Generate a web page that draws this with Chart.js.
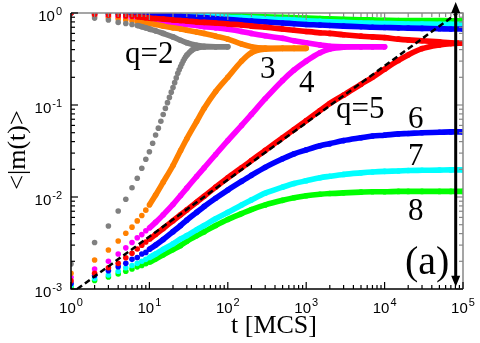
<!DOCTYPE html>
<html><head><meta charset="utf-8">
<script src="https://cdn.jsdelivr.net/npm/chart.js@4.4.1/dist/chart.umd.min.js"></script>
<style>
html,body{margin:0;padding:0;background:#fff;}
canvas{display:block;}
#fl{position:absolute;left:-9999px;top:0;}
#fl span.s{font-family:"Liberation Serif";}
#fl span.a{font-family:"Liberation Sans";}
</style>
</head><body>
<div id="fl"><span class="s">q=2 t [MCS] (a) &lt;|m(t)&gt;</span><span class="a">10 -3</span></div>
<canvas id="c" width="480" height="343"></canvas>
<script>
// ---- data ----
const T = [1,2,3,4,5,6,7,8,9,10,12,15,20,25,30,40,50,70,100,150,200,300,500,700,1000,1500,2000,3000,5000,7000,10000,15000,20000,30000,50000,70000,100000];
const tGrayUp = [1,2,3,4,5,6,7,8,9,10,11,12,13,14,15,16,17,18,19,20,21,22,23,24,25,26,27,28,29,30,35,40,50,70,100];

const q2Down = [1,0.88,0.84,0.79,0.77,0.75,0.73,0.71,0.69,0.67,0.64,0.6,0.55,0.505,0.475,0.445,0.435,0.43,0.43];
const q2Up = [0.00187,0.0032,0.00484,0.00705,0.00944,0.0126,0.016,0.0205,0.0257,0.031,0.0384,0.0472,0.056,0.0667,0.0787,0.0918,0.106,0.121,0.138,0.155,0.175,0.197,0.221,0.241,0.261,0.281,0.3,0.318,0.334,0.348,0.395,0.415,0.428,0.43,0.43];

const q3Down = [1,0.93,0.89,0.86,0.84,0.82,0.81,0.795,0.78,0.77,0.75,0.72,0.69,0.67,0.65,0.62,0.6,0.56,0.52,0.46,0.43,0.415,0.413,0.413,0.413];
const q3Up = [0.00148,0.00207,0.00265,0.00333,0.00403,0.0047,0.0055,0.0063,0.0072,0.0082,0.0105,0.0145,0.022,0.032,0.043,0.066,0.092,0.14,0.2,0.3,0.37,0.405,0.413,0.413,0.413];

const q4Down = [1,0.95,0.92,0.9,0.88,0.87,0.86,0.85,0.84,0.83,0.82,0.8,0.78,0.765,0.75,0.73,0.71,0.69,0.665,0.63,0.6,0.565,0.53,0.5,0.475,0.45,0.435,0.43,0.43,0.43,0.43];
const q4Up = [0.00134,0.00165,0.002,0.0024,0.0028,0.0032,0.0036,0.0039,0.0043,0.0046,0.0053,0.0064,0.0083,0.0104,0.0125,0.0167,0.0208,0.029,0.041,0.06,0.079,0.117,0.185,0.24,0.3,0.37,0.405,0.425,0.43,0.43,0.43];

const q5Down = [1,0.97,0.95,0.94,0.93,0.92,0.91,0.9,0.89,0.88,0.87,0.86,0.84,0.83,0.82,0.8,0.79,0.78,0.76,0.74,0.72,0.7,0.67,0.65,0.63,0.61,0.6,0.58,0.56,0.55,0.54,0.52,0.51,0.5,0.485,0.475,0.47];
const q5Up = [0.00123,0.00148,0.0017,0.0019,0.00219,0.00245,0.00272,0.00299,0.00324,0.00347,0.00392,0.00455,0.00552,0.00641,0.00724,0.00878,0.0102,0.0128,0.0162,0.0208,0.0249,0.0321,0.044,0.0542,0.0676,0.0869,0.104,0.128,0.168,0.2,0.245,0.305,0.35,0.41,0.45,0.465,0.47];

const q6Down = [1,0.99,0.985,0.98,0.975,0.97,0.965,0.96,0.958,0.955,0.95,0.94,0.93,0.92,0.91,0.9,0.89,0.87,0.85,0.83,0.82,0.8,0.78,0.765,0.75,0.74,0.73,0.72,0.71,0.7,0.695,0.69,0.685,0.68,0.675,0.67,0.67];
const q6Up = [0.00115,0.0014,0.00158,0.00175,0.0019,0.0021,0.0022,0.0024,0.0025,0.0027,0.003,0.00345,0.0042,0.0049,0.0056,0.0068,0.0079,0.0097,0.0119,0.0148,0.0172,0.021,0.026,0.0295,0.0325,0.036,0.038,0.041,0.044,0.046,0.047,0.0485,0.049,0.05,0.0505,0.051,0.051];

const q7Down = [1,0.995,0.99,0.988,0.985,0.982,0.98,0.978,0.976,0.974,0.97,0.965,0.96,0.955,0.95,0.94,0.935,0.92,0.9,0.89,0.88,0.865,0.85,0.84,0.825,0.81,0.8,0.79,0.78,0.775,0.77,0.765,0.76,0.76,0.755,0.755,0.755];
const q7Up = [0.0011,0.0013,0.00142,0.00156,0.0017,0.0018,0.0019,0.002,0.0021,0.0022,0.0024,0.0027,0.0031,0.0035,0.0038,0.0044,0.0049,0.0058,0.0068,0.0082,0.0093,0.011,0.0128,0.014,0.015,0.0162,0.0168,0.0176,0.0183,0.0187,0.019,0.0192,0.0194,0.0195,0.0196,0.0197,0.0197];

const q8Down = [1,0.998,0.996,0.995,0.993,0.992,0.99,0.99,0.988,0.987,0.985,0.98,0.975,0.97,0.968,0.962,0.958,0.95,0.94,0.93,0.92,0.91,0.9,0.89,0.88,0.87,0.865,0.855,0.845,0.84,0.835,0.83,0.83,0.828,0.826,0.825,0.825];
const q8Up = [0.00105,0.00124,0.00135,0.00146,0.00156,0.00165,0.00174,0.0018,0.00188,0.00195,0.00212,0.00235,0.00268,0.00297,0.0033,0.0038,0.0042,0.0049,0.0057,0.0066,0.0073,0.0082,0.0092,0.0098,0.0103,0.0107,0.0109,0.0111,0.0113,0.0114,0.0114,0.0115,0.0115,0.0115,0.0115,0.0115,0.0115];

const dashX = [1.2, 85000];
const dashY = [0.001, 1.0];
const arrowX = 80700;
const arrowY = [0.00106, 1.32];

const xTickVals = [1,10,100,1000,10000,100000];
const xTickExp = ['0','1','2','3','4','5'];
const yTickVals = [0.001,0.01,0.1,1];
const yTickExp = ['-3','-2','-1','0'];
const xTitle = 't [MCS]';
const yTitle = '<|m(t)>';
const curveLabels = ['q=2','3','4','q=5','6','7','8','(a)'];

// ---- styles ----
const COL = {q2:'#808080', q3:'#ff8000', q4:'#ff00ff', q5:'#ff0000', q6:'#0000ff', q7:'#00ffff', q8:'#00ff00'};
const SERIF = '"Liberation Serif"';
const SANS = '"Liberation Sans"';

function series(times, vals, color, thr, order) {
  return {
    data: vals.map((v, i) => ({x: times[i], y: v})),
    borderColor: color, backgroundColor: color,
    pointBackgroundColor: color, pointBorderWidth: 0, pointRadius: 2.8, pointHoverRadius: 2.8,
    borderWidth: 5.6, cubicInterpolationMode: 'monotone', fill: false,
    segment: { borderColor: c => (c.p0.parsed.x < thr ? 'rgba(0,0,0,0)' : undefined) },
    order: order
  };
}

const datasets = [
  {
    data: dashX.map((x, i) => ({x: x, y: dashY[i]})),
    borderColor: '#000', borderWidth: 2.5, borderDash: [6, 3.5], pointRadius: 0, fill: false, order: 0
  },
  series(T, q5Up, COL.q5, 10, 1),
  series(T, q5Down, COL.q5, 7, 1),
  series(tGrayUp, q2Up, COL.q2, 30, 2),
  series(T, q2Down, COL.q2, 7, 2),
  series(T, q3Up, COL.q3, 10, 3),
  series(T, q3Down, COL.q3, 7, 3),
  series(T, q4Up, COL.q4, 10, 4),
  series(T, q4Down, COL.q4, 7, 4),
  series(T, q6Up, COL.q6, 10, 5),
  series(T, q6Down, COL.q6, 7, 5),
  series(T, q7Up, COL.q7, 10, 6),
  series(T, q7Down, COL.q7, 7, 6),
  series(T, q8Up, COL.q8, 10, 7),
  series(T, q8Down, COL.q8, 7, 7)
];

const labelPos = [
  {x:125, y:63, size:31}, {x:260, y:78, size:31}, {x:299, y:92, size:31},
  {x:336, y:118, size:31}, {x:408, y:128, size:31}, {x:408, y:165, size:31},
  {x:408, y:220, size:31}, {x:405, y:274, size:40}
];

const deco = {
  id: 'deco',
  afterDatasetsDraw(chart) {
    const ctx = chart.ctx, xs = chart.scales.x, ys = chart.scales.y, a = chart.chartArea;
    ctx.save();
    ctx.lineWidth = 1.5;
    ctx.strokeStyle = '#888';
    ctx.beginPath();
    ctx.moveTo(a.left, a.top); ctx.lineTo(a.right, a.top); ctx.lineTo(a.right, a.bottom);
    ctx.stroke();
    const xMinor = [], yMinor = [];
    xTickVals.forEach(v => { for (let k = 2; k <= 9; k++) if (v * k <= 100000) xMinor.push(v * k); });
    yTickVals.forEach(v => { for (let k = 2; k <= 9; k++) if (v * k <= 1) yMinor.push(v * k); });
    const tick = (x1, y1, x2, y2, col) => { ctx.strokeStyle = col; ctx.beginPath(); ctx.moveTo(x1, y1); ctx.lineTo(x2, y2); ctx.stroke(); };
    ctx.lineWidth = 1.2;
    xTickVals.forEach(v => { const p = xs.getPixelForValue(v);
      tick(p, a.bottom, p, a.bottom - 7, '#000'); tick(p, a.top, p, a.top + 7, '#888'); });
    xMinor.forEach(v => { const p = xs.getPixelForValue(v);
      tick(p, a.bottom, p, a.bottom - 4, '#000'); tick(p, a.top, p, a.top + 4, '#888'); });
    yTickVals.forEach(v => { const p = ys.getPixelForValue(v);
      tick(a.left, p, a.left + 7, p, '#000'); tick(a.right, p, a.right - 7, p, '#888'); });
    yMinor.forEach(v => { const p = ys.getPixelForValue(v);
      tick(a.left, p, a.left + 4, p, '#000'); tick(a.right, p, a.right - 4, p, '#888'); });
    ctx.lineWidth = 1.5; ctx.strokeStyle = '#000';
    ctx.beginPath(); ctx.moveTo(a.left, a.top); ctx.lineTo(a.left, a.bottom); ctx.lineTo(a.right, a.bottom); ctx.stroke();
    // tick labels
    ctx.fillStyle = '#000';
    const big = '15px ' + SANS, small = '11px ' + SANS;
    ctx.textBaseline = 'alphabetic';
    xTickVals.forEach((v, i) => {
      const p = xs.getPixelForValue(v);
      ctx.font = big; const w1 = ctx.measureText('10').width;
      ctx.font = small; const w2 = ctx.measureText(xTickExp[i]).width;
      const s = p - (w1 + 1 + w2) / 2;
      ctx.font = big; ctx.textAlign = 'left'; ctx.fillText('10', s, a.bottom + 24);
      ctx.font = small; ctx.fillText(xTickExp[i], s + w1 + 1, a.bottom + 17);
    });
    yTickVals.forEach((v, i) => {
      const p = ys.getPixelForValue(v);
      ctx.font = small; const w2 = ctx.measureText(yTickExp[i]).width;
      ctx.textAlign = 'right';
      ctx.fillText(yTickExp[i], a.left - 9, p + 2);
      ctx.font = big; ctx.fillText('10', a.left - 9 - w2 - 1, p + 8);
    });
    // axis titles
    ctx.font = '26px ' + SERIF;
    ctx.textAlign = 'center';
    ctx.fillText(xTitle, 274, 333);
    ctx.save();
    ctx.translate(25, 150); ctx.rotate(-Math.PI / 2);
    ctx.fillText(yTitle, 0, 0);
    ctx.restore();
    // curve labels
    ctx.textAlign = 'left';
    curveLabels.forEach((t, i) => {
      const L = labelPos[i];
      ctx.font = L.size + 'px ' + SERIF;
      ctx.fillText(t, L.x, L.y);
    });
    // double arrow
    const ax = xs.getPixelForValue(arrowX);
    const yT = ys.getPixelForValue(arrowY[1]), yB = ys.getPixelForValue(arrowY[0]);
    ctx.strokeStyle = '#000'; ctx.lineWidth = 3;
    ctx.beginPath(); ctx.moveTo(ax, yT + 9); ctx.lineTo(ax, yB - 9); ctx.stroke();
    ctx.beginPath();
    ctx.moveTo(ax, yT); ctx.lineTo(ax - 4.5, yT + 11); ctx.lineTo(ax + 4.5, yT + 11); ctx.closePath();
    ctx.moveTo(ax, yB); ctx.lineTo(ax - 4.5, yB - 11); ctx.lineTo(ax + 4.5, yB - 11); ctx.closePath();
    ctx.fill();
    ctx.restore();
  }
};

function draw() {
  new Chart(document.getElementById('c'), {
    type: 'line',
    data: { datasets: datasets },
    options: {
      responsive: false, animation: false, devicePixelRatio: 1,
      layout: { padding: { left: 71, right: 17, top: 13, bottom: 54 } },
      plugins: { legend: { display: false }, tooltip: { enabled: false } },
      scales: {
        x: { type: 'logarithmic', min: 1, max: 100000, display: false },
        y: { type: 'logarithmic', min: 0.001, max: 1, display: false }
      }
    },
    plugins: [deco]
  });
}

Promise.all([
  document.fonts.load('26px "Liberation Serif"'),
  document.fonts.load('15px "Liberation Sans"')
]).then(draw, draw);
</script>
</body></html>
